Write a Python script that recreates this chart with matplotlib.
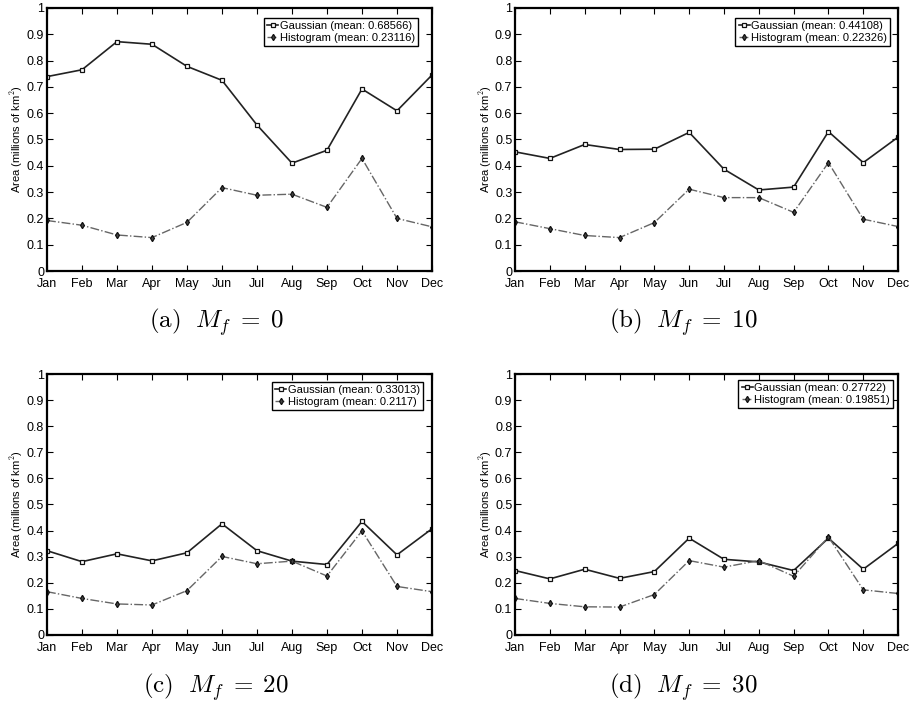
import numpy as np
import matplotlib
matplotlib.use("Agg")
import matplotlib.pyplot as plt

plt.rcParams['font.family'] = ['Liberation Sans', 'DejaVu Sans']
plt.rcParams['mathtext.fontset'] = 'cm'

months = ['Jan', 'Feb', 'Mar', 'Apr', 'May', 'Jun', 'Jul', 'Aug', 'Sep', 'Oct', 'Nov', 'Dec']

gauss_0 = [0.739, 0.765, 0.872, 0.862, 0.778, 0.725, 0.555, 0.410, 0.459, 0.692, 0.609, 0.745]
hist_0 = [0.192, 0.174, 0.137, 0.127, 0.185, 0.317, 0.288, 0.292, 0.242, 0.428, 0.200, 0.168]
gauss_10 = [0.453, 0.428, 0.481, 0.462, 0.463, 0.527, 0.387, 0.308, 0.319, 0.530, 0.412, 0.509]
hist_10 = [0.187, 0.161, 0.135, 0.127, 0.184, 0.311, 0.279, 0.279, 0.223, 0.412, 0.197, 0.169]
gauss_20 = [0.323, 0.281, 0.311, 0.284, 0.315, 0.426, 0.323, 0.283, 0.270, 0.435, 0.307, 0.407]
hist_20 = [0.166, 0.140, 0.119, 0.115, 0.170, 0.301, 0.273, 0.283, 0.226, 0.399, 0.186, 0.166]
gauss_30 = [0.247, 0.215, 0.252, 0.217, 0.243, 0.371, 0.290, 0.280, 0.247, 0.371, 0.252, 0.351]
hist_30 = [0.140, 0.121, 0.108, 0.107, 0.155, 0.285, 0.260, 0.285, 0.225, 0.376, 0.173, 0.159]

gauss_means = ['0.68566', '0.44108', '0.33013', '0.27722']
hist_means = ['0.23116', '0.22326', '0.2117', '0.19851']
captions = ['(a)', '(b)', '(c)', '(d)']
mf_values = [0, 10, 20, 30]

panels = [(gauss_0, hist_0), (gauss_10, hist_10), (gauss_20, hist_20), (gauss_30, hist_30)]

fig = plt.figure(figsize=(9.1, 7.05), dpi=100)

# axes rectangles (left, bottom, width, height) in figure fraction
rects = [
    (0.0516, 0.6156, 0.4231, 0.3731),
    (0.5660, 0.6156, 0.4209, 0.3731),
    (0.0516, 0.0993, 0.4231, 0.3702),
    (0.5660, 0.0993, 0.4209, 0.3702),
]
caption_y = [1 - 322 / 705, 1 - 322 / 705, 1 - 687 / 705, 1 - 687 / 705]
# legend gaps from the axes' upper right corner, in pixels (right, top)
leg_gap = [(14, 10), (8, 10), (9, 8), (5, 6)]

x = np.arange(len(months))
for i, (g, h) in enumerate(panels):
    ax = fig.add_axes(rects[i])
    ax.plot(x, g, '-', color='#222222', lw=1.2, marker='s', ms=3.0,
            mfc='white', mec='#111111', mew=0.9,
            label='Gaussian (mean: %s)' % gauss_means[i])
    ax.plot(x, h, '-.', color='#666666', lw=1.0, marker='d', ms=3.2,
            mfc='#444444', mec='#111111', mew=0.9,
            label='Histogram (mean: %s)' % hist_means[i])
    ax.set_xlim(0, 11)
    ax.set_ylim(0, 1)
    ax.set_xticks(x)
    ax.set_xticklabels(months)
    ax.set_yticks(np.arange(0, 1.01, 0.1))
    ax.set_yticklabels(['0', '0.1', '0.2', '0.3', '0.4', '0.5', '0.6', '0.7', '0.8', '0.9', '1'])
    ax.tick_params(direction='in', top=True, right=True, length=4, width=0.8,
                   labelsize=9, pad=2)
    ax.tick_params(axis='x', pad=5)
    for s in ax.spines.values():
        s.set_linewidth(1.6)
    ax.set_ylabel('Area (millions of km$^2$)', fontsize=8, labelpad=1)

    w_px = rects[i][2] * 910
    h_px = rects[i][3] * 705
    anchor = (1 - leg_gap[i][0] / w_px, 1 - leg_gap[i][1] / h_px)
    leg = ax.legend(loc='upper right', bbox_to_anchor=anchor, fontsize=8,
                    handlelength=1.0, handletextpad=0.1, borderpad=0.3,
                    labelspacing=0.15, fancybox=False, framealpha=1,
                    borderaxespad=0)
    leg.get_frame().set_edgecolor('black')
    leg.get_frame().set_linewidth(1.0)

    cx = rects[i][0] + rects[i][2] * 0.44
    fig.text(cx, caption_y[i],
             r'$\mathrm{%s}\ \ M_f\;=\;%d$' % (captions[i], mf_values[i]),
             fontsize=18, ha='center', va='center')

fig.savefig('out.png', dpi=100)
